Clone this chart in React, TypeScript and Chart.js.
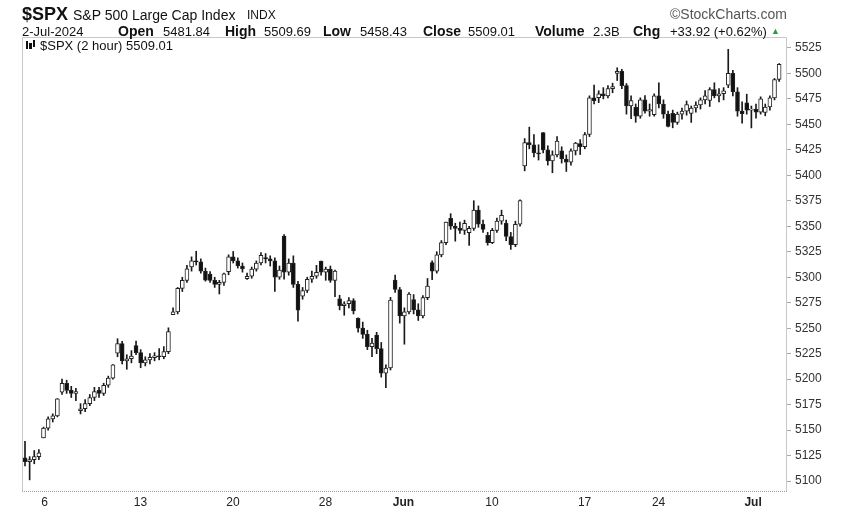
import React, { useEffect, useRef } from 'react';
import { Chart, registerables } from 'chart.js';
Chart.register(...registerables);

// 2-hour bars, 4 per trading day, 3-May-2024 .. 2-Jul-2024
const open = [
  5122.8, 5119, 5121, 5124, 5142.4, 5152, 5161, 5164, 5187.2, 5196, 5189, 5186, 5169, 5171, 5176, 5182,
  5189, 5186, 5194, 5201, 5225.5, 5235, 5218, 5220, 5233, 5226, 5216, 5219, 5221.1, 5223, 5222, 5227,
  5263.3, 5266, 5289, 5297, 5310.1, 5316, 5315, 5306, 5303.1, 5297, 5293, 5295, 5305.4, 5320, 5316, 5311,
  5298.7, 5301, 5308, 5314, 5319.3, 5318, 5316, 5300, 5340.3, 5305, 5314, 5293, 5281.5, 5287, 5298, 5301,
  5315.9, 5305, 5308, 5297, 5278.7, 5272, 5274, 5277, 5259.8, 5250, 5244, 5232, 5243.2, 5230, 5206, 5211,
  5297.2, 5288, 5262, 5266, 5278.2, 5268, 5262, 5280, 5314.5, 5306, 5322, 5334, 5357.8, 5350, 5348, 5346,
  5343.8, 5348, 5366, 5352, 5341.2, 5334, 5346, 5355, 5353, 5340, 5332, 5352, 5409.1, 5432, 5430, 5422,
  5441.9, 5425, 5414, 5420, 5424.1, 5416, 5413, 5424, 5431.1, 5428, 5440, 5476, 5476.2, 5480, 5478, 5485,
  5500, 5502, 5488, 5468, 5466.8, 5458, 5474, 5463, 5459.6, 5478, 5470, 5460, 5460.7, 5452, 5460, 5463,
  5460.7, 5466, 5469, 5474, 5473.6, 5484, 5478, 5480, 5488.5, 5500, 5482, 5463, 5471.1, 5464, 5465, 5462,
  5461.8, 5467, 5476, 5494,
];
const high = [
  5139.1, 5124, 5130, 5131, 5153, 5163, 5166, 5181, 5200.2, 5199, 5193, 5191, 5176, 5180, 5185, 5192,
  5192, 5196, 5203, 5214.4, 5239.7, 5237, 5224, 5228, 5237.3, 5229, 5222, 5225, 5226, 5230, 5232, 5250.4,
  5270, 5290, 5300, 5311.8, 5320, 5325.5, 5318, 5309, 5305.5, 5300, 5297, 5304, 5322, 5325.3, 5319, 5314,
  5304, 5310, 5316, 5324.3, 5323.2, 5321, 5319, 5311, 5341.9, 5318, 5321, 5296, 5290, 5300, 5306, 5311.7,
  5315.9, 5310, 5311, 5307, 5282.3, 5276, 5280, 5279, 5260.2, 5256, 5248, 5240, 5246, 5236, 5214, 5280.3,
  5302.1, 5290, 5270, 5285, 5283, 5274, 5282, 5298.8, 5316, 5325, 5336, 5354.2, 5362.4, 5353, 5354, 5356,
  5350, 5375.1, 5370, 5356, 5344, 5348, 5358, 5365.8, 5356, 5344, 5355, 5376, 5436, 5447.3, 5440, 5430,
  5441.9, 5429, 5424, 5438, 5428, 5420, 5426, 5432.4, 5435, 5442, 5478, 5488.5, 5483, 5486, 5488, 5490.4,
  5505.5, 5504, 5490, 5478, 5470, 5476, 5478.3, 5470, 5480, 5490.7, 5474, 5463, 5464, 5462, 5466, 5472.9,
  5468, 5472, 5476, 5483.1, 5486, 5490.8, 5485, 5486, 5523.6, 5503, 5486, 5472, 5479.6, 5468, 5470, 5477,
  5470, 5478, 5495, 5509.7,
];
const low = [
  5115, 5101.2, 5117, 5121, 5142.4, 5150, 5158, 5163, 5185, 5186, 5182, 5179, 5165.9, 5168, 5174, 5179,
  5182, 5184, 5192, 5200, 5222, 5215, 5209.7, 5216, 5224, 5211.2, 5213, 5215, 5218, 5219, 5220, 5225,
  5263.3, 5264, 5286, 5295, 5306, 5312, 5304, 5296.2, 5295, 5290, 5283.6, 5292, 5302.4, 5314, 5309, 5305,
  5297.9, 5299, 5306, 5312, 5314, 5311, 5286, 5298, 5298, 5302, 5290, 5256.9, 5278.4, 5285, 5295, 5299,
  5302, 5297, 5295, 5280.9, 5268, 5262.7, 5270, 5264, 5246, 5240, 5229, 5222.1, 5225, 5202, 5191.7, 5209,
  5285, 5255, 5234.3, 5264, 5264, 5257.6, 5260, 5278, 5297.6, 5304, 5320, 5332, 5347, 5335.4, 5343, 5342,
  5331.3, 5346, 5349, 5344, 5331.5, 5333, 5344, 5352, 5336, 5327.3, 5330, 5350, 5404.4, 5426, 5418, 5415,
  5422, 5410, 5402.5, 5418, 5412, 5403.8, 5410, 5420, 5420.4, 5426, 5438, 5470, 5471.3, 5475, 5476, 5481,
  5493, 5485, 5460, 5455.6, 5452, 5456, 5461, 5458, 5458, 5466, 5456, 5447.6, 5446.6, 5450, 5455, 5459,
  5451.9, 5462, 5465, 5470, 5467.5, 5476, 5472, 5474, 5486, 5478, 5458, 5451.1, 5460, 5446.5, 5456, 5460,
  5458.4, 5464, 5474, 5492,
];
const close = [
  5119, 5121, 5124, 5127.8, 5152, 5161, 5164, 5180.7, 5196, 5189, 5186, 5187.7, 5171, 5176, 5182, 5187.7,
  5186, 5194, 5201, 5214.1, 5235, 5218, 5220, 5222.7, 5226, 5216, 5219, 5221.4, 5223, 5222, 5227, 5246.7,
  5266, 5289, 5297, 5308.2, 5316, 5315, 5306, 5297.1, 5297, 5293, 5295, 5303.3, 5320, 5316, 5311, 5308.1,
  5301, 5308, 5314, 5321.4, 5318, 5316, 5300, 5307, 5305, 5314, 5293, 5267.8, 5287, 5298, 5301, 5304.7,
  5305, 5308, 5297, 5306, 5272, 5274, 5277, 5266.9, 5250, 5244, 5232, 5235.5, 5230, 5206, 5211, 5277.5,
  5288, 5262, 5266, 5283.4, 5268, 5262, 5280, 5291.3, 5306, 5322, 5334, 5354, 5350, 5348, 5346, 5353,
  5348, 5366, 5352, 5347, 5334, 5346, 5355, 5360.8, 5340, 5332, 5352, 5375.3, 5432, 5430, 5422, 5421,
  5425, 5414, 5420, 5433.7, 5416, 5413, 5424, 5431.6, 5428, 5440, 5476, 5473.2, 5480, 5478, 5485, 5487,
  5502, 5488, 5468, 5473.2, 5458, 5474, 5463, 5464.6, 5478, 5470, 5460, 5447.9, 5452, 5460, 5463, 5469.3,
  5466, 5469, 5474, 5477.9, 5484, 5478, 5480, 5482.9, 5500, 5482, 5463, 5460.5, 5464, 5465, 5462, 5475.1,
  5467, 5476, 5494, 5509,
];

// first bar index of each labelled day
const xTickIndex = [4, 24, 44, 64, 80, 100, 120, 136, 156];
const xTickLabels = ['6', '13', '20', '28', 'Jun', '10', '17', '24', 'Jul'];
const yTickValues = [5100, 5125, 5150, 5175, 5200, 5225, 5250, 5275, 5300, 5325, 5350, 5375, 5400, 5425, 5450, 5475, 5500, 5525];

const FONT = "'Liberation Sans', Arial, sans-serif";

const framePlugin = {
  id: 'frame',
  beforeDatasetsDraw(chart: any) {
    const { ctx, chartArea: a } = chart;
    ctx.save();
    ctx.strokeStyle = '#c8c8c8';
    ctx.lineWidth = 1;
    ctx.beginPath();
    ctx.moveTo(Math.floor(a.left) + 0.5, a.bottom);
    ctx.lineTo(Math.floor(a.left) + 0.5, Math.floor(a.top) + 0.5);
    ctx.lineTo(Math.floor(a.right) - 0.5, Math.floor(a.top) + 0.5);
    ctx.lineTo(Math.floor(a.right) - 0.5, a.bottom);
    ctx.stroke();
    ctx.setLineDash([1, 1]);
    ctx.strokeStyle = '#999';
    ctx.beginPath();
    ctx.moveTo(a.left, Math.floor(a.bottom) - 0.5);
    ctx.lineTo(a.right, Math.floor(a.bottom) - 0.5);
    ctx.stroke();
    ctx.restore();
  },
};

const T = (p: any) => (
  <span
    style={{
      position: 'absolute',
      left: p.x,
      top: p.y - p.s / 2,
      fontSize: p.s,
      lineHeight: `${p.s}px`,
      fontWeight: p.b ? 'bold' : 'normal',
      fontFamily: FONT,
      color: p.c || '#111',
      whiteSpace: 'nowrap',
    }}
  >
    {p.t}
  </span>
);

export default function App() {
  const ref = useRef<HTMLCanvasElement>(null);
  useEffect(() => {
    document.body.style.margin = '0';
    const up = close.map((c, i) => c >= open[i]);
    const chart = new Chart(ref.current as HTMLCanvasElement, {
      type: 'bar',
      data: {
        datasets: [
          {
            label: 'range',
            data: high.map((h, i) => ({ x: i, y: [low[i], h] })) as any,
            backgroundColor: '#1a1a1a',
            borderWidth: 0,
            barThickness: 1,
            grouped: false,
            order: 2,
          } as any,
          {
            label: 'body',
            data: open.map((o, i) => ({ x: i, y: [Math.min(o, close[i]), Math.max(o, close[i])] })) as any,
            backgroundColor: up.map((u) => (u ? '#ffffff' : '#111111')),
            borderColor: '#222',
            borderWidth: 1,
            borderSkipped: false,
            barThickness: 4,
            grouped: false,
            order: 1,
          } as any,
        ],
      },
      options: {
        responsive: false,
        maintainAspectRatio: false,
        animation: false,
        layout: { padding: { left: 22, top: 37, right: 0, bottom: 0 } },
        plugins: { legend: { display: false }, tooltip: { enabled: false } },
        scales: {
          x: {
            type: 'linear',
            min: -0.65,
            max: 164.7,
            offset: false,
            afterBuildTicks: (s: any) => {
              s.ticks = xTickIndex.map((v) => ({ value: v - 0.5 }));
            },
            afterFit: (s: any) => {
              s.height = 21;
            },
            ticks: {
              autoSkip: false,
              maxRotation: 0,
              align: 'start',
              padding: 3,
              color: '#222',
              font: (ctx: any) => ({
                family: FONT,
                size: 12,
                weight: xTickLabels[ctx.index] === 'Jun' || xTickLabels[ctx.index] === 'Jul' ? 'bold' : 'normal',
              }),
              callback: (_v: any, i: number) => xTickLabels[i],
            },
            grid: { display: false, drawTicks: false },
            border: { display: false },
          },
          y: {
            type: 'linear',
            position: 'right',
            min: 5089.3,
            max: 5535.7,
            afterBuildTicks: (s: any) => {
              s.ticks = yTickValues.map((v) => ({ value: v }));
            },
            afterFit: (s: any) => {
              s.width = 61;
            },
            ticks: {
              padding: 4,
              color: '#333',
              font: { family: FONT, size: 12 },
              callback: (v: any) => String(v),
            },
            grid: { drawOnChartArea: false, drawTicks: true, tickLength: 4, color: '#aaa' },
            border: { display: false },
          },
        },
      } as any,
      plugins: [framePlugin],
    });
    return () => chart.destroy();
  }, []);

  return (
    <div style={{ position: 'relative', width: 848, height: 513, background: '#fff', overflow: 'hidden' }}>
      <canvas ref={ref} width={848} height={513} style={{ position: 'absolute', left: 0, top: 0 }} />
      <T x={22} y={14} s={18} b t="$SPX" />
      <T x={73} y={15} s={14} t="S&P 500 Large Cap Index" />
      <T x={247} y={15} s={12} t="INDX" />
      <T x={670} y={14} s={14} c="#555" t="©StockCharts.com" />
      <T x={22} y={31} s={13} t="2-Jul-2024" />
      <T x={118} y={31} s={14} b t="Open" />
      <T x={163} y={31} s={13} t="5481.84" />
      <T x={225} y={31} s={14} b t="High" />
      <T x={264} y={31} s={13} t="5509.69" />
      <T x={323} y={31} s={14} b t="Low" />
      <T x={360} y={31} s={13} t="5458.43" />
      <T x={423} y={31} s={14} b t="Close" />
      <T x={468} y={31} s={13} t="5509.01" />
      <T x={535} y={31} s={14} b t="Volume" />
      <T x={593} y={31} s={13} t="2.3B" />
      <T x={633} y={31} s={14} b t="Chg" />
      <T x={670} y={31} s={13} t="+33.92 (+0.62%)" />
      <T x={771} y={31} s={9} c="#2e9a3e" t="▲" />
      <div style={{ position: 'absolute', left: 25, top: 40, width: 11, height: 10 }}>
        <div style={{ position: 'absolute', left: 1, top: 1, width: 2, height: 8, background: '#111' }} />
        <div style={{ position: 'absolute', left: 4, top: 3, width: 3, height: 6, background: '#111' }} />
        <div style={{ position: 'absolute', left: 8, top: 0, width: 2, height: 7, background: '#111' }} />
      </div>
      <T x={40} y={45} s={13} t="$SPX (2 hour) 5509.01" />
    </div>
  );
}
